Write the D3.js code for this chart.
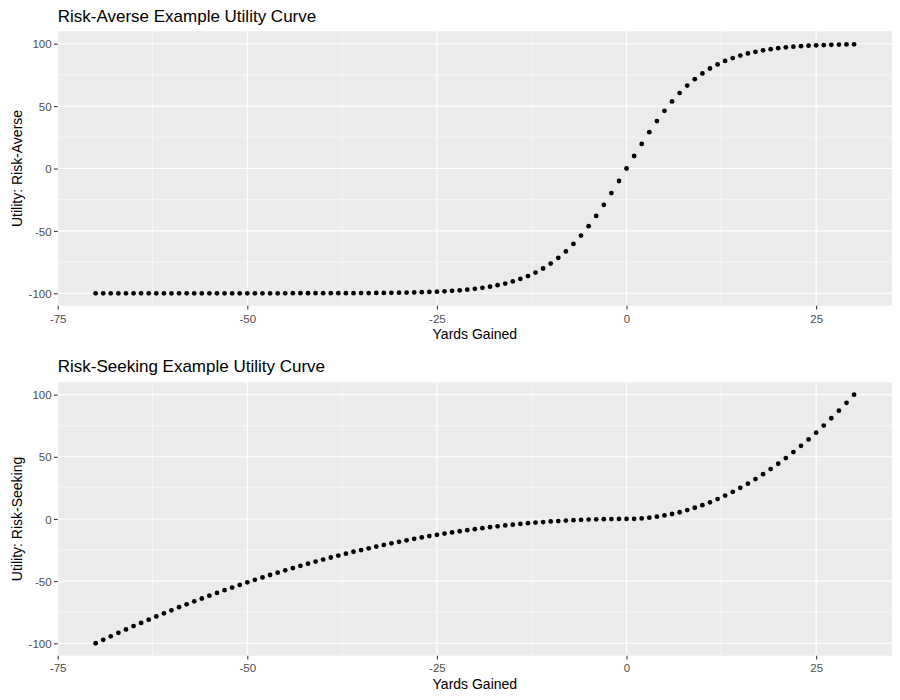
<!DOCTYPE html>
<html><head><meta charset="utf-8">
<script src="https://cdn.jsdelivr.net/npm/d3@7"></script>
<style>body{margin:0;background:#fff}svg{display:block}</style>
</head><body>
<svg id="chart" width="900" height="700"></svg>
<script>
// x values: yards gained, -70 .. 30
const yards = [-70,-69,-68,-67,-66,-65,-64,-63,-62,-61,-60,-59,-58,-57,-56,-55,-54,-53,-52,-51,
-50,-49,-48,-47,-46,-45,-44,-43,-42,-41,-40,-39,-38,-37,-36,-35,-34,-33,-32,-31,
-30,-29,-28,-27,-26,-25,-24,-23,-22,-21,-20,-19,-18,-17,-16,-15,-14,-13,-12,-11,
-10,-9,-8,-7,-6,-5,-4,-3,-2,-1,0,1,2,3,4,5,6,7,8,9,
10,11,12,13,14,15,16,17,18,19,20,21,22,23,24,25,26,27,28,29,30];

const riskAverse = [-100,-100,-100,-100,-100,-100,-100,-100,-100,-100,-100,-100,-100,-100,-100,-100,-100,-100,-100,-100,
-100,-100,-100,-100,-100,-100,-99.9,-99.9,-99.9,-99.9,-99.9,-99.9,-99.9,-99.9,-99.9,-99.8,-99.8,-99.7,-99.7,-99.6,
-99.5,-99.4,-99.3,-99.1,-98.9,-98.7,-98.4,-98.0,-97.6,-97.1,-96.4,-95.6,-94.7,-93.5,-92.2,-90.5,-88.5,-86.2,-83.4,-80.1,
-76.2,-71.6,-66.4,-60.4,-53.7,-46.2,-38.0,-29.1,-19.7,-10.0,0,10.0,19.7,29.1,38.0,46.2,53.7,60.4,66.4,71.6,
76.2,80.1,83.4,86.2,88.5,90.5,92.2,93.5,94.7,95.6,96.4,97.1,97.6,98.0,98.4,98.7,98.9,99.1,99.3,99.4,99.5];

const riskSeeking = [-100,-97.2,-94.4,-91.6,-88.9,-86.2,-83.6,-81.0,-78.4,-75.9,-73.5,-71.0,-68.7,-66.3,-64.0,-61.7,-59.5,-57.3,-55.2,-53.1,
-51.0,-49.0,-47.0,-45.1,-43.2,-41.3,-39.5,-37.7,-36.0,-34.3,-32.7,-31.0,-29.5,-27.9,-26.4,-25.0,-23.6,-22.2,-20.9,-19.6,
-18.4,-17.2,-16.0,-14.9,-13.8,-12.8,-11.8,-10.8,-9.9,-9.0,-8.2,-7.4,-6.6,-5.9,-5.2,-4.6,-4.0,-3.4,-2.9,-2.5,
-2.0,-1.7,-1.3,-1.0,-0.7,-0.5,-0.3,-0.2,-0.1,0,0,0.1,0.4,1.0,1.8,2.8,4.0,5.4,7.1,9.0,
11.1,13.4,16.0,18.8,21.8,25.0,28.4,32.1,36.0,40.1,44.4,49.0,53.8,58.8,64.0,69.4,75.1,81.0,87.1,93.4,100];

const xTicks = [-75,-50,-25,0,25];
const xMinor = [-62.5,-37.5,-12.5,12.5];
const yTicks = [-100,-50,0,50,100];
const yMinor = [-75,-25,25,75];

const panels = [
  {title:"Risk-Averse Example Utility Curve", ylab:"Utility: Risk-Averse", values:riskAverse,
   top:31.2, bottom:305.8, titleY:21.7, xTickY:322.7, xTitleY:339.3},
  {title:"Risk-Seeking Example Utility Curve", ylab:"Utility: Risk-Seeking", values:riskSeeking,
   top:382.2, bottom:655.7, titleY:372.3, xTickY:672.3, xTitleY:688.7}
];

const svg = d3.select("#chart");
const font = "'Liberation Sans', Arial, Helvetica, sans-serif";
const left = 57.7, right = 892;
const fmt = d => String(d);

panels.forEach(p => {
  const x = d3.scaleLinear().domain([-75,35]).range([left,right]);
  const y = d3.scaleLinear().domain([-110,110]).range([p.bottom,p.top]);
  const g = svg.append("g");

  g.append("rect").attr("x",left).attr("y",p.top).attr("width",right-left).attr("height",p.bottom-p.top).attr("fill","#EBEBEB");

  // minor grid
  g.selectAll(".xm").data(xMinor).enter().append("line")
    .attr("x1",d=>x(d)).attr("x2",d=>x(d)).attr("y1",p.top).attr("y2",p.bottom)
    .attr("stroke","#fff").attr("stroke-width",0.55);
  g.selectAll(".ym").data(yMinor).enter().append("line")
    .attr("y1",d=>y(d)).attr("y2",d=>y(d)).attr("x1",left).attr("x2",right)
    .attr("stroke","#fff").attr("stroke-width",0.55);
  // major grid
  g.selectAll(".xM").data(xTicks).enter().append("line")
    .attr("x1",d=>x(d)).attr("x2",d=>x(d)).attr("y1",p.top).attr("y2",p.bottom)
    .attr("stroke","#fff").attr("stroke-width",1.1);
  g.selectAll(".yM").data(yTicks).enter().append("line")
    .attr("y1",d=>y(d)).attr("y2",d=>y(d)).attr("x1",left).attr("x2",right)
    .attr("stroke","#fff").attr("stroke-width",1.1);

  // axes
  const xAxis = d3.axisBottom(x).tickValues(xTicks).tickSize(3.7).tickPadding(2.5).tickFormat(fmt);
  const xa = g.append("g").attr("transform",`translate(0,${p.bottom})`).call(xAxis);
  xa.select(".domain").remove();
  xa.selectAll("line").attr("stroke","#333333").attr("stroke-width",1.05);
  xa.selectAll("text").attr("fill","#4D4D4D").style("font-family",font).style("font-size","11.5px")
    .attr("dy",null).attr("y",p.xTickY-p.bottom);

  const yAxis = d3.axisLeft(y).tickValues(yTicks).tickSize(3.7).tickPadding(2.4).tickFormat(fmt);
  const ya = g.append("g").attr("transform",`translate(${left},0)`).call(yAxis);
  ya.select(".domain").remove();
  ya.selectAll("line").attr("stroke","#333333").attr("stroke-width",1.05);
  ya.selectAll("text").attr("fill","#4D4D4D").style("font-family",font).style("font-size","11.5px").attr("dy","0.36em");

  // points
  g.selectAll(".pt").data(yards).enter().append("circle")
    .attr("cx",d=>x(d)).attr("cy",(d,i)=>y(p.values[i])).attr("r",2.4).attr("fill","#000");

  // titles
  g.append("text").attr("x",left).attr("y",p.titleY).text(p.title)
    .style("font-family",font).style("font-size","17px").attr("fill","#000");
  g.append("text").attr("x",(left+right)/2).attr("y",p.xTitleY).attr("text-anchor","middle").text("Yards Gained")
    .style("font-family",font).style("font-size","14px").attr("fill","#000");
  g.append("text").attr("transform",`translate(21.5,${(p.top+p.bottom)/2}) rotate(-90)`).attr("text-anchor","middle")
    .text(p.ylab).style("font-family",font).style("font-size","14px").attr("fill","#000");
});
</script>
</body></html>
